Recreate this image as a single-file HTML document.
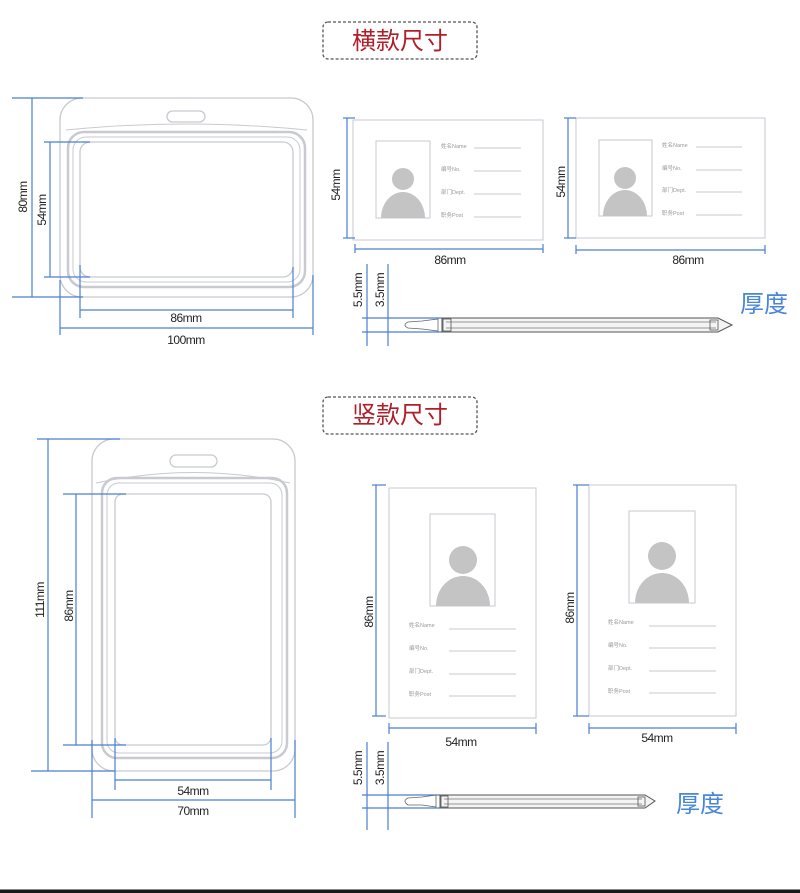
<!DOCTYPE html>
<html><head><meta charset="utf-8"><style>
html,body{margin:0;padding:0;background:#fff;width:800px;height:893px;overflow:hidden}
svg{display:block}
.d{stroke:#4a7fd4;stroke-width:1.2;fill:none}
.g{stroke:#c8cad0;fill:none}
.t{font-family:"Liberation Sans","Noto Sans CJK SC",sans-serif;font-size:12px;fill:#222;letter-spacing:-0.5px}
.s{font-family:"Liberation Sans","Noto Sans CJK SC",sans-serif;font-size:5.5px;fill:#999}
.h{font-family:"Liberation Sans","Noto Sans CJK SC",sans-serif;font-size:24px}
</style></head><body>
<svg width="800" height="893" viewBox="0 0 800 893" xmlns="http://www.w3.org/2000/svg">
<defs>
<g id="bar">
<path d="M0 0 L-2 0 Q-8 2 -8 4 Q-8 6 -2 7 L5 7 L10 6 L14 7 L14 0 L10 1 L5 0 Z" fill="none" stroke="#666" stroke-width="0.8" transform="translate(30,3)"/>
<rect x="40" y="0" width="0" height="0"/>
</g>
</defs>
<!-- Titles -->
<rect x="323" y="22" width="154" height="37" rx="5" fill="none" stroke="#555" stroke-width="1.3" stroke-dasharray="3,2"/>
<text x="400" y="49" text-anchor="middle" class="h" fill="#b01e2a">横款尺寸</text>
<rect x="323" y="397" width="154" height="37" rx="5" fill="none" stroke="#555" stroke-width="1.3" stroke-dasharray="3,2"/>
<text x="400" y="423" text-anchor="middle" class="h" fill="#b01e2a">竖款尺寸</text>

<!-- Horizontal holder -->
<rect x="60" y="98" width="253" height="199" rx="22" class="g" stroke-width="1.3"/>
<rect x="167" y="111" width="38" height="11" rx="5.5" class="g" stroke-width="1.3"/>
<path d="M66 130 Q186 118 307 130" class="g"/>
<rect x="68" y="132" width="237" height="155" rx="16" class="g" stroke-width="2.5"/>
<rect x="73" y="137" width="227" height="145" rx="13" class="g"/>
<rect x="80" y="142" width="213" height="135" rx="10" class="g" stroke-width="1.3"/>
<g class="d">
<line x1="32" y1="98" x2="32" y2="297"/><line x1="12" y1="98" x2="83" y2="98"/><line x1="12" y1="297" x2="83" y2="297"/>
<line x1="50" y1="142" x2="50" y2="277"/><line x1="44" y1="142" x2="90" y2="142"/><line x1="44" y1="277" x2="90" y2="277"/>
<line x1="80" y1="310" x2="293" y2="310"/><line x1="80" y1="265" x2="80" y2="318"/><line x1="293" y1="267" x2="293" y2="318"/>
<line x1="60" y1="328" x2="313" y2="328"/><line x1="60" y1="280" x2="60" y2="335"/><line x1="313" y1="275" x2="313" y2="335"/>
</g>
<text class="t" transform="translate(27,197) rotate(-90)" text-anchor="middle">80mm</text>
<text class="t" transform="translate(46,210) rotate(-90)" text-anchor="middle">54mm</text>
<text class="t" x="186" y="322" text-anchor="middle">86mm</text>
<text class="t" x="186" y="344" text-anchor="middle">100mm</text>

<!-- Horizontal cards -->
<g>
<rect x="353" y="120" width="190" height="120" class="g"/>
<rect x="376" y="141" width="54" height="77" class="g"/>
<circle cx="403" cy="179" r="11" fill="#c4c4c4"/>
<path d="M381 218 A22 26 0 0 1 425 218 Z" fill="#c4c4c4"/>
<text class="s" x="441" y="148">姓名Name</text><line x1="474" y1="148" x2="521" y2="148" class="g"/>
<text class="s" x="441" y="171">编号No.</text><line x1="474" y1="171" x2="521" y2="171" class="g"/>
<text class="s" x="441" y="194">部门Dept.</text><line x1="474" y1="194" x2="521" y2="194" class="g"/>
<text class="s" x="441" y="217">职务Post</text><line x1="474" y1="217" x2="521" y2="217" class="g"/>
<g class="d" stroke-width="0.8"><line x1="347" y1="118" x2="347" y2="238"/><line x1="343" y1="118" x2="355" y2="118"/><line x1="343" y1="238" x2="355" y2="238"/>
<line x1="355" y1="249" x2="543" y2="249"/><line x1="355" y1="244" x2="355" y2="253"/><line x1="543" y1="244" x2="543" y2="253"/></g>
<text class="t" transform="translate(340,185) rotate(-90)" text-anchor="middle">54mm</text>
<text class="t" x="450" y="264" text-anchor="middle">86mm</text>
</g>
<g>
<rect x="576" y="118" width="189" height="120" class="g"/>
<rect x="599" y="140" width="53" height="76" class="g"/>
<circle cx="625" cy="178" r="11" fill="#c4c4c4"/>
<path d="M603 216 A22 26 0 0 1 647 216 Z" fill="#c4c4c4"/>
<text class="s" x="662" y="147">姓名Name</text><line x1="696" y1="147" x2="742" y2="147" class="g"/>
<text class="s" x="662" y="170">编号No.</text><line x1="696" y1="170" x2="742" y2="170" class="g"/>
<text class="s" x="662" y="192">部门Dept.</text><line x1="696" y1="192" x2="742" y2="192" class="g"/>
<text class="s" x="662" y="215">职务Post</text><line x1="696" y1="215" x2="742" y2="215" class="g"/>
<g class="d" stroke-width="0.8"><line x1="568" y1="118" x2="568" y2="238"/><line x1="564" y1="118" x2="576" y2="118"/><line x1="564" y1="238" x2="576" y2="238"/>
<line x1="576" y1="250" x2="765" y2="250"/><line x1="576" y1="245" x2="576" y2="254"/><line x1="765" y1="245" x2="765" y2="254"/></g>
<text class="t" transform="translate(565,182) rotate(-90)" text-anchor="middle">54mm</text>
<text class="t" x="688" y="264" text-anchor="middle">86mm</text>
</g>

<!-- Thickness 1 -->
<g class="d"><line x1="367" y1="264" x2="367" y2="346"/><line x1="388" y1="264" x2="388" y2="346"/>
<line x1="362" y1="318" x2="442" y2="318"/><line x1="362" y1="332" x2="442" y2="332"/></g>
<text class="t" transform="translate(362,290) rotate(-90)" text-anchor="middle">5.5mm</text>
<text class="t" transform="translate(384,290) rotate(-90)" text-anchor="middle">3.5mm</text>
<path d="M408 322 L422 321 L438 319 L438 331 L422 329 L408 328 Q402 325 408 322 Z" fill="none" stroke="#666" stroke-width="0.8"/>
<path d="M442 318 L718 318 L732 325 L718 332 L442 332 Z" fill="#f4f4f4" stroke="#555" stroke-width="1"/>
<line x1="446" y1="322" x2="716" y2="322" stroke="#777" stroke-width="0.7"/>
<line x1="446" y1="328" x2="716" y2="328" stroke="#777" stroke-width="0.7"/>
<rect x="443" y="319" width="8" height="12" fill="none" stroke="#555" stroke-width="0.8"/>
<rect x="710" y="320" width="8" height="10" fill="none" stroke="#555" stroke-width="0.8"/>
<text x="740" y="312" class="h" fill="#4a86d8">厚度</text>

<!-- Vertical holder -->
<rect x="92" y="439" width="203" height="332" rx="22" class="g" stroke-width="1.3"/>
<rect x="170" y="455" width="47" height="12" rx="6" class="g" stroke-width="1.3"/>
<path d="M96 483 Q193 462 290 483" class="g"/>
<rect x="102" y="478" width="185" height="280" rx="15" class="g" stroke-width="2.5"/>
<rect x="107" y="483" width="175" height="270" rx="12" class="g"/>
<rect x="115" y="494" width="156" height="251" rx="8" class="g" stroke-width="1.3"/>
<g class="d">
<line x1="48" y1="439" x2="48" y2="771"/><line x1="37" y1="439" x2="120" y2="439"/><line x1="31" y1="771" x2="115" y2="771"/>
<line x1="76" y1="494" x2="76" y2="745"/><line x1="63" y1="494" x2="126" y2="494"/><line x1="63" y1="745" x2="126" y2="745"/>
<line x1="115" y1="780" x2="271" y2="780"/><line x1="115" y1="738" x2="115" y2="790"/><line x1="271" y1="738" x2="271" y2="790"/>
<line x1="92" y1="800" x2="295" y2="800"/><line x1="92" y1="740" x2="92" y2="818"/><line x1="295" y1="740" x2="295" y2="818"/>
</g>
<text class="t" transform="translate(44,600) rotate(-90)" text-anchor="middle">111mm</text>
<text class="t" transform="translate(73,606) rotate(-90)" text-anchor="middle">86mm</text>
<text class="t" x="193" y="795" text-anchor="middle">54mm</text>
<text class="t" x="193" y="815" text-anchor="middle">70mm</text>

<!-- Vertical cards -->
<g>
<rect x="389" y="488" width="147" height="230" class="g"/>
<rect x="430" y="514" width="65" height="92" class="g"/>
<circle cx="463" cy="560" r="14" fill="#c4c4c4"/>
<path d="M436 606 A27 30 0 0 1 490 606 Z" fill="#c4c4c4"/>
<text class="s" x="409" y="627">姓名Name</text><line x1="449" y1="629" x2="516" y2="629" class="g"/>
<text class="s" x="409" y="650">编号No.</text><line x1="449" y1="651" x2="516" y2="651" class="g"/>
<text class="s" x="409" y="673">部门Dept.</text><line x1="449" y1="674" x2="516" y2="674" class="g"/>
<text class="s" x="409" y="696">职务Post</text><line x1="449" y1="696" x2="516" y2="696" class="g"/>
<g class="d" stroke-width="0.8"><line x1="376" y1="485" x2="376" y2="716"/><line x1="372" y1="485" x2="386" y2="485"/><line x1="372" y1="716" x2="386" y2="716"/>
<line x1="389" y1="728" x2="536" y2="728"/><line x1="389" y1="723" x2="389" y2="734"/><line x1="536" y1="723" x2="536" y2="734"/></g>
<text class="t" transform="translate(373,612) rotate(-90)" text-anchor="middle">86mm</text>
<text class="t" x="461" y="746" text-anchor="middle">54mm</text>
</g>
<g>
<rect x="589" y="485" width="147" height="231" class="g"/>
<rect x="629" y="511" width="66" height="92" class="g"/>
<circle cx="662" cy="556" r="14" fill="#c4c4c4"/>
<path d="M635 603 A27 30 0 0 1 689 603 Z" fill="#c4c4c4"/>
<text class="s" x="608" y="624">姓名Name</text><line x1="649" y1="626" x2="716" y2="626" class="g"/>
<text class="s" x="608" y="647">编号No.</text><line x1="649" y1="648" x2="716" y2="648" class="g"/>
<text class="s" x="608" y="670">部门Dept.</text><line x1="649" y1="671" x2="716" y2="671" class="g"/>
<text class="s" x="608" y="693">职务Post</text><line x1="649" y1="693" x2="716" y2="693" class="g"/>
<g class="d" stroke-width="0.8"><line x1="577" y1="485" x2="577" y2="716"/><line x1="573" y1="485" x2="589" y2="485"/><line x1="573" y1="716" x2="589" y2="716"/>
<line x1="589" y1="728" x2="736" y2="728"/><line x1="589" y1="723" x2="589" y2="734"/><line x1="736" y1="723" x2="736" y2="734"/></g>
<text class="t" transform="translate(574,608) rotate(-90)" text-anchor="middle">86mm</text>
<text class="t" x="657" y="742" text-anchor="middle">54mm</text>
</g>

<!-- Thickness 2 -->
<g class="d"><line x1="367" y1="742" x2="367" y2="830"/><line x1="388" y1="742" x2="388" y2="830"/>
<line x1="362" y1="795" x2="440" y2="795"/><line x1="362" y1="808" x2="440" y2="808"/></g>
<text class="t" transform="translate(362,768) rotate(-90)" text-anchor="middle">5.5mm</text>
<text class="t" transform="translate(384,768) rotate(-90)" text-anchor="middle">3.5mm</text>
<path d="M408 798 L422 797 L436 795 L436 807 L422 805 L408 805 Q402 801 408 798 Z" fill="none" stroke="#666" stroke-width="0.8"/>
<path d="M440 795 L645 795 L655 801 L645 808 L440 808 Z" fill="#f4f4f4" stroke="#555" stroke-width="1"/>
<line x1="444" y1="799" x2="642" y2="799" stroke="#777" stroke-width="0.7"/>
<line x1="444" y1="804" x2="642" y2="804" stroke="#777" stroke-width="0.7"/>
<rect x="441" y="796" width="7" height="11" fill="none" stroke="#555" stroke-width="0.8"/>
<rect x="638" y="797" width="7" height="9" fill="none" stroke="#555" stroke-width="0.8"/>
<text x="676" y="812" class="h" fill="#4a86d8">厚度</text>

<rect x="0" y="889" width="800" height="4" fill="#1a1a1a"/>
<line x1="0" y1="889.5" x2="800" y2="889.5" stroke="#888" stroke-width="1"/>
</svg>
</body></html>
